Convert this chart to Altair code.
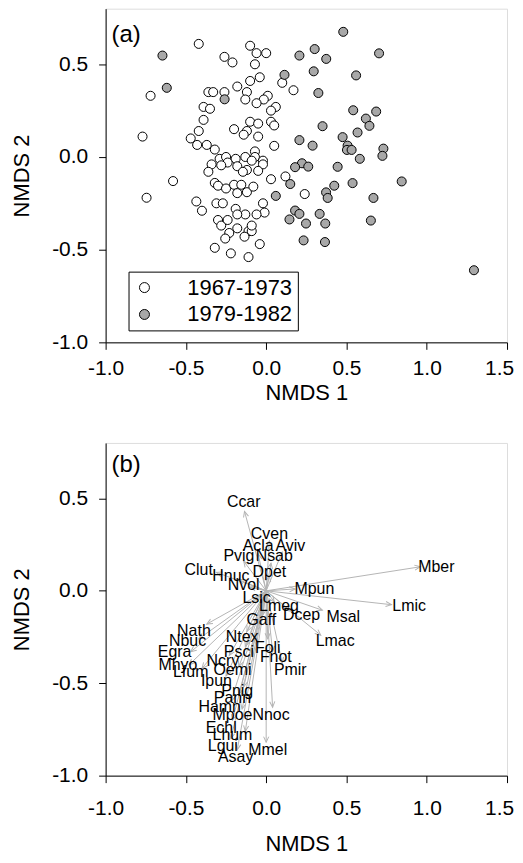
import altair as alt
import pandas as pd

# ---------------- Panel (a) data ----------------
white_x = [-0.42, -0.10, -0.06, 0.00, -0.26, -0.21, -0.07,
           -0.04, -0.10, 0.10, -0.18, -0.36, -0.33, -0.26,
           0.17, -0.72, -0.12, -0.13, 0.01, -0.015, -0.06,
           -0.39, -0.35, 0.06, 0.03, -0.39, -0.10, -0.05,
           0.03, 0.05, -0.20, -0.12, -0.14, -0.05, -0.42,
           -0.47, -0.77, -0.43, -0.37, -0.32, 0.05, -0.07,
           -0.13, -0.07, -0.29, -0.25, -0.19, -0.02, -0.24,
           -0.34, -0.28, -0.18, -0.12, -0.09, -0.02, -0.05,
           -0.145, -0.36, 0.03, 0.12, -0.58, -0.32, -0.30,
           -0.25, -0.20, -0.155, -0.12, -0.08, -0.18, 0.24,
           -0.745, -0.435, -0.40, -0.31, -0.27, -0.02, -0.01,
           -0.06, -0.13, -0.19, -0.30, -0.28, -0.24, -0.18,
           -0.18, -0.23, -0.255, -0.11, -0.135, -0.09, -0.09,
           -0.04, -0.32, -0.22, -0.11]
white_y = [0.61, 0.60, 0.56, 0.56, 0.54, 0.51, 0.50,
           0.43, 0.41, 0.40, 0.38, 0.35, 0.35, 0.35,
           0.36, 0.33, 0.35, 0.31, 0.33, 0.31, 0.29,
           0.27, 0.26, 0.27, 0.25, 0.20, 0.19, 0.18,
           0.19, 0.17, 0.15, 0.14, 0.12, 0.11, 0.14,
           0.10, 0.11, 0.065, 0.065, 0.04, 0.06, 0.03,
           0.00, 0.00, -0.01, 0.00, -0.01, -0.02, -0.03,
           -0.04, -0.045, -0.05, -0.07, -0.02, -0.04, -0.075,
           -0.08, -0.08, -0.12, -0.105, -0.13, -0.14, -0.155,
           -0.17, -0.15, -0.15, -0.19, -0.16, -0.195, -0.20,
           -0.22, -0.24, -0.29, -0.25, -0.25, -0.25, -0.30,
           -0.31, -0.31, -0.28, -0.34, -0.37, -0.34, -0.31,
           -0.385, -0.41, -0.44, -0.40, -0.43, -0.40, -0.37,
           -0.47, -0.49, -0.52, -0.54]

grey_x = [-0.646, -0.619, -0.259, 0.480, 0.302, 0.207, 0.374, 0.703, 0.296, 0.114,
          0.560, 0.325, 0.542, 0.685, 0.621, 0.643, 0.351, 0.569, 0.476, 0.207,
          0.289, 0.507, 0.503, 0.532, 0.730, 0.724, 0.583, 0.223, 0.180, 0.262,
          0.445, 0.844, 0.538, 0.150, 0.424, 0.373, 0.383, 0.668, 0.060, 0.180,
          0.207, 0.145, 0.248, 0.233, 0.333, 0.368, 0.366, 0.652, 1.294]
grey_y = [0.547, 0.373, 0.311, 0.675, 0.582, 0.547, 0.529, 0.559, 0.462, 0.443,
          0.440, 0.345, 0.252, 0.245, 0.207, 0.168, 0.166, 0.132, 0.107, 0.091,
          0.061, 0.061, 0.038, 0.038, 0.045, 0.006, -0.010, -0.034, -0.055, -0.052,
          -0.053, -0.132, -0.141, -0.146, -0.155, -0.191, -0.221, -0.221, -0.210, -0.289,
          -0.307, -0.337, -0.359, -0.450, -0.307, -0.359, -0.459, -0.343, -0.611]

periods = ["1967-1973", "1979-1982"]

# ---------------- Panel (b) data ----------------
species = ["Ccar", "Cven", "Acla", "Aviv", "Pvig", "Nsab", "Clut", "Hnuc", "Dpet", "Nvol",
           "Mpun", "Mber", "Lsic", "Lmeg", "Lmic", "Gaff", "Dcep", "Msal", "Lmac", "Nath",
           "Nbuc", "Ntex", "Foli", "Egra", "Psci", "Fnot", "Ncry", "Mhyo", "Pmir", "Lfum",
           "Oemi", "Ipun", "Pnig", "Pann", "Hamn", "Mpoe", "Nnoc", "Echl", "Lhum", "Lgui",
           "Mmel", "Asay"]
arrow_x = [-0.135, 0.02, -0.05, 0.10, -0.14, 0.03, -0.31, -0.17, 0.02, -0.10,
           0.18, 0.96, -0.04, 0.05, 0.78, -0.02, 0.15, 0.35, 0.34, -0.37,
           -0.42, -0.12, 0.01, -0.47, -0.13, 0.04, -0.23, -0.48, 0.10, -0.40,
           -0.17, -0.25, -0.14, -0.17, -0.22, -0.15, 0.04, -0.21, -0.13, -0.22,
           0.00, -0.18]
arrow_y = [0.43, 0.27, 0.20, 0.21, 0.16, 0.15, 0.10, 0.06, 0.08, 0.02,
           0.01, 0.13, -0.03, -0.06, -0.075, -0.13, -0.11, -0.105, -0.24, -0.18,
           -0.26, -0.22, -0.26, -0.33, -0.30, -0.33, -0.35, -0.40, -0.39, -0.42,
           -0.41, -0.46, -0.52, -0.56, -0.60, -0.64, -0.63, -0.70, -0.76, -0.80,
           -0.82, -0.86]
label_x = [-0.14, 0.02, -0.05, 0.15, -0.17, 0.05, -0.42, -0.22, 0.02, -0.14,
           0.30, 1.06, -0.06, 0.08, 0.89, -0.03, 0.22, 0.48, 0.43, -0.45,
           -0.49, -0.15, 0.01, -0.57, -0.17, 0.06, -0.27, -0.55, 0.15, -0.47,
           -0.21, -0.31, -0.18, -0.21, -0.29, -0.21, 0.03, -0.28, -0.21, -0.27,
           0.01, -0.19]
label_y = [0.48, 0.31, 0.24, 0.24, 0.19, 0.19, 0.11, 0.08, 0.10, 0.03,
           0.01, 0.13, -0.04, -0.08, -0.08, -0.16, -0.13, -0.14, -0.27, -0.22,
           -0.27, -0.25, -0.31, -0.33, -0.33, -0.36, -0.38, -0.40, -0.43, -0.44,
           -0.43, -0.49, -0.54, -0.58, -0.63, -0.67, -0.67, -0.74, -0.78, -0.84,
           -0.86, -0.90]

x_ticks = [-1.0, -0.5, 0.0, 0.5, 1.0, 1.5]
y_ticks = [-1.0, -0.5, 0.0, 0.5]
x_domain = [-1.0, 1.5]
y_domain = [-1.0, 0.8]

W, H_A, H_B = 403, 335, 334
FONT = "Liberation Sans"
GREY = "#a8a8a8"
ARROW = "#b4b4b4"

lab_expr = "datum.value < 0 ? '-' + format(-datum.value, '.1f') : format(datum.value, '.1f')"


def xaxis(label_pad, title_pad):
    return alt.Axis(values=x_ticks, labelExpr=lab_expr, title="NMDS 1", grid=False,
                    tickSize=7, tickColor="black", domainColor="black", labelColor="black",
                    titleColor="black", labelFontSize=21, titleFontSize=22, labelFont=FONT,
                    titleFont=FONT, titleFontWeight="normal", labelPadding=label_pad,
                    titlePadding=title_pad, labelFlush=False,
                    labelOffset={"condition": {"test": "datum.value == 1.5", "value": -8},
                                 "value": 0})


def yaxis():
    return alt.Axis(values=y_ticks, labelExpr=lab_expr, title="NMDS 2", grid=False,
                    tickSize=7, tickColor="black", domainColor="black", labelColor="black",
                    titleColor="black", labelFontSize=21, titleFontSize=22, labelFont=FONT,
                    titleFont=FONT, titleFontWeight="normal", labelPadding=11, titlePadding=18,
                    labelFlush=False)


xs = alt.Scale(domain=x_domain, nice=False, zero=False)
ys = alt.Scale(domain=y_domain, nice=False, zero=False)

df_a = pd.DataFrame({
    "x": white_x + grey_x,
    "y": white_y + grey_y,
    "period": [periods[0]] * len(white_x) + [periods[1]] * len(grey_x),
})

points = alt.Chart(df_a).mark_point(filled=True, size=82, stroke="black", strokeWidth=1,
                                     opacity=1, shape="circle").encode(
    x=alt.X("x:Q", scale=xs, axis=xaxis(8, 4)),
    y=alt.Y("y:Q", scale=ys, axis=yaxis()),
    fill=alt.Fill("period:N", scale=alt.Scale(domain=periods, range=["white", GREY]),
                  legend=alt.Legend(title=None, orient="none", legendX=23, legendY=264,
                                    strokeColor="black", fillColor="white", padding=5,
                                    labelFontSize=22, labelFont=FONT, labelColor="black",
                                    symbolSize=100, symbolStrokeColor="black",
                                    symbolStrokeWidth=1, labelOffset=32, rowPadding=5,
                                    symbolType="circle", cornerRadius=0)),
)

tag_a = alt.Chart(pd.DataFrame({"t": ["(a)"]})).mark_text(
    font=FONT, fontSize=24, align="left", baseline="middle", color="black").encode(
    text="t:N", x=alt.value(6), y=alt.value(26))

panel_a = alt.layer(points, tag_a).properties(width=W, height=H_A)

df_b = pd.DataFrame({"sp": species, "ax": arrow_x, "ay": arrow_y,
                     "lx": label_x, "ly": label_y})

kx = W / (x_domain[1] - x_domain[0])
ky = H_B / (y_domain[1] - y_domain[0])

base_b = alt.Chart(df_b).transform_calculate(
    ox="0", oy="0",
    ang=f"(atan2(-datum.ay*{ky}, datum.ax*{kx})*180/PI + 360) % 360",
)

shafts = base_b.mark_rule(color=ARROW, strokeWidth=1).encode(
    x=alt.X("ox:Q", scale=xs, axis=xaxis(15, 15)),
    y=alt.Y("oy:Q", scale=ys, axis=yaxis()),
    x2="ax:Q", y2="ay:Q",
)

heads = base_b.mark_point(shape="M-1,-0.45L0,0L-1,0.45", filled=False, stroke=ARROW,
                          strokeWidth=1, size=130, opacity=1).encode(
    x=alt.X("ax:Q", scale=xs), y=alt.Y("ay:Q", scale=ys),
    angle=alt.Angle("ang:Q", scale=None),
)

labels = base_b.mark_text(font=FONT, fontSize=16, color="black", align="center",
                          baseline="middle").encode(
    x=alt.X("lx:Q", scale=xs), y=alt.Y("ly:Q", scale=ys), text="sp:N")

tag_b = alt.Chart(pd.DataFrame({"t": ["(b)"]})).mark_text(
    font=FONT, fontSize=24, align="left", baseline="middle", color="black").encode(
    text="t:N", x=alt.value(6), y=alt.value(22))

panel_b = alt.layer(shafts, heads, labels, tag_b).properties(width=W, height=H_B)

chart = alt.vconcat(panel_a, panel_b, spacing=38).properties(
    padding={"left": 2, "top": -2, "right": 0, "bottom": -2}
).configure_view(stroke="black", strokeWidth=1).configure(font=FONT, background="white")

chart.save("out.html", embed_options={"renderer": "svg", "actions": False})
